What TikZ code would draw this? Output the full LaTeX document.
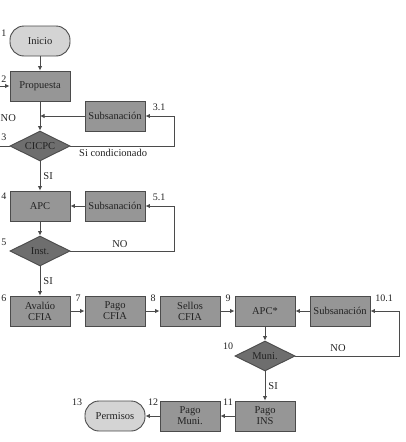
\documentclass[tikz,border=0pt]{standalone}
\usepackage{fontspec}
\setmainfont{Liberation Serif}
\usetikzlibrary{shapes.geometric,arrows.meta}
\definecolor{boxfill}{RGB}{150,150,150}
\definecolor{decfill}{RGB}{110,110,110}
\definecolor{termfill}{RGB}{212,212,212}
\definecolor{boxline}{RGB}{75,75,75}
\definecolor{txt}{RGB}{35,35,35}
\begin{document}
\begin{tikzpicture}[x=1pt,y=-1pt,
  base/.style={draw=boxline, line width=0.9pt, inner sep=0pt, align=center, text=txt,
    font=\fontsize{10.5}{11}\selectfont},
  box/.style={base, rectangle, fill=boxfill, minimum width=60pt, minimum height=30pt},
  term/.style={base, rectangle, rounded corners=14pt, fill=termfill, minimum width=60pt, minimum height=30pt},
  dec/.style={base, diamond, aspect=2, fill=decfill, minimum width=60pt, minimum height=30pt},
  num/.style={text=txt, font=\fontsize{10}{11}\selectfont, inner sep=0pt},
  lbl/.style={text=txt, font=\fontsize{10.5}{11}\selectfont, inner sep=0pt},
  arr/.style={draw=boxline, line width=0.9pt, -{Latex[length=4.5pt,width=4.5pt]}},
  ln/.style={draw=boxline, line width=0.9pt}]
\useasboundingbox (0,0) rectangle (406,442);
% nodes
\node[term] (inicio) at (40,41) {Inicio};
\node[box] (prop) at (40,86) {Propuesta};
\node[box] (sub3) at (115,116) {Subsanación};
\node[dec] (cicpc) at (40,146) {CICPC};
\node[box] (apc) at (40,206) {APC};
\node[box] (sub5) at (115,206) {Subsanación};
\node[dec] (inst) at (40,251) {Inst.};
\node[box] (aval) at (40,311) {Avalúo\\CFIA};
\node[box] (pcfia) at (115,311) {Pago\\CFIA};
\node[box] (sellos) at (190,311) {Sellos\\CFIA};
\node[box] (apcs) at (265,311) {APC*};
\node[box] (sub10) at (340,311) {Subsanación};
\node[dec] (muni) at (265,356) {Muni.};
\node[box] (pins) at (265,416) {Pago\\INS};
\node[box] (pmuni) at (190,416) {Pago\\Muni.};
\node[term] (perm) at (115,416) {Permisos};
% numbers
\node[num] (n1) at (4,33) {1};
\node[num] (n2) at (4,79) {2};
\node[num] (n3) at (4,137) {3};
\node[num] (n31) at (159,107) {3.1};
\node[num] (n4) at (4,196) {4};
\node[num] (n51) at (159,197) {5.1};
\node[num] (n5) at (4,242) {5};
\node[num] (n6) at (4,298) {6};
\node[num] (n7) at (78,298) {7};
\node[num] (n8) at (153,298) {8};
\node[num] (n9) at (228,298) {9};
\node[num] (n101) at (384,298) {10.1};
\node[num] (n10) at (228,346) {10};
\node[num] (n11) at (228,402) {11};
\node[num] (n12) at (153,402) {12};
\node[num] (n13) at (77,402) {13};
% coordinates
\coordinate (j3) at (40,116);
\coordinate (c3) at (174,116);
\coordinate (cl) at (-8,86);
\coordinate (c5) at (174,206);
\coordinate (c10) at (399,311);
% connectors
\draw[arr] (inicio) -- (prop);
\draw[arr] (prop) -- (cicpc.north);
\draw[arr] (sub3.west) -- (j3);
\draw[arr] (cicpc.east) -| (c3) -- (sub3.east);
\draw[arr] (cicpc.west) -| (cl) -- (prop.west);
\draw[arr] (cicpc.south) -- node[lbl, right=3pt] (si1) {SI} (apc.north);
\draw[arr] (sub5.west) -- (apc.east);
\draw[arr] (apc.south) -- (inst.north);
\draw[arr] (inst.east) -| (c5) -- (sub5.east);
\draw[arr] (inst.south) -- node[lbl, right=3pt] (si2) {SI} (aval.north);
\draw[arr] (aval) -- (pcfia);
\draw[arr] (pcfia) -- (sellos);
\draw[arr] (sellos) -- (apcs);
\draw[arr] (sub10) -- (apcs);
\draw[arr] (apcs.south) -- (muni.north);
\draw[arr] (muni.east) -| (c10) -- (sub10.east);
\draw[arr] (muni.south) -- node[lbl, right=3pt] (si3) {SI} (pins.north);
\draw[arr] (pins) -- (pmuni);
\draw[arr] (pmuni) -- (perm);
% labels
\node[lbl, anchor=west] (sicond) at (79,153) {Si condicionado};
\node[lbl, anchor=west] (no1) at (0.5,118) {NO};
\node[lbl] (no2) at (120,244) {NO};
\node[lbl] (no3) at (338,348) {NO};
\end{tikzpicture}
\end{document}
